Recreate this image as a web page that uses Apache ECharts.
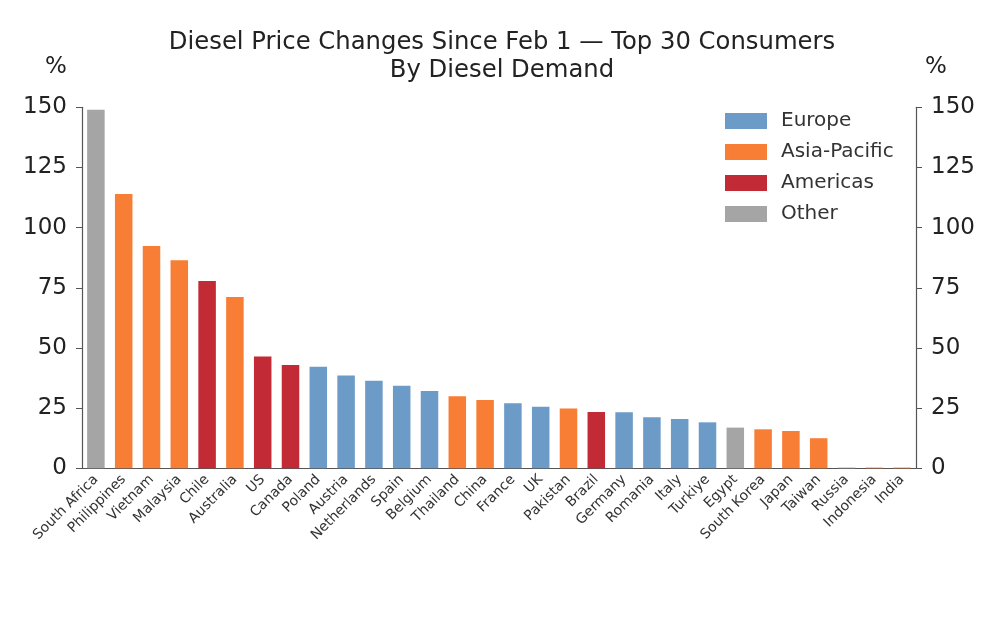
<!DOCTYPE html>
<html>
<head>
<meta charset="utf-8">
<script src="https://cdn.jsdelivr.net/npm/echarts@6/dist/echarts.min.js"></script>
<style>html,body{margin:0;padding:0;background:#fff}#c{width:1000px;height:620px}</style>
</head>
<body>
<div id="c"></div>
<script>
const categories = ["South Africa","Philippines","Vietnam","Malaysia","Chile","Australia","US","Canada","Poland","Austria","Netherlands","Spain","Belgium","Thailand","China","France","UK","Pakistan","Brazil","Germany","Romania","Italy","Turkiye","Egypt","South Korea","Japan","Taiwan","Russia","Indonesia","India"];
const values = [149,114,92.4,86.4,77.8,71.2,46.5,42.9,42.2,38.6,36.4,34.3,32.1,29.9,28.4,27.0,25.6,24.8,23.4,23.3,21.2,20.5,19.1,16.9,16.2,15.5,12.5,0.3,0.3,0.3];
const regions = ["Other","Asia-Pacific","Asia-Pacific","Asia-Pacific","Americas","Asia-Pacific","Americas","Americas","Europe","Europe","Europe","Europe","Europe","Asia-Pacific","Asia-Pacific","Europe","Europe","Asia-Pacific","Americas","Europe","Europe","Europe","Europe","Other","Asia-Pacific","Asia-Pacific","Asia-Pacific","Other","Asia-Pacific","Asia-Pacific"];
const regionNames = ["Europe","Asia-Pacific","Americas","Other"];
const regionColors = ["#6b9bc6","#f87d35","#c22a36","#a5a5a5"];
const yTicks = [0,25,50,75,100,125,150];

const font = "DejaVu Sans";
const axisCommon = {
  type: 'value', min: yTicks[0], max: yTicks[yTicks.length - 1], interval: yTicks[1] - yTicks[0],
  axisLine: {show: true, lineStyle: {color: '#555', width: 1.2}},
  axisTick: {show: true, length: 6, lineStyle: {color: '#555'}},
  splitLine: {show: false},
  axisLabel: {fontFamily: font, fontSize: 23, color: '#222', margin: 15}
};
const series = regionNames.map((r, i) => ({
  name: r, type: 'bar', stack: 'all',
  barCategoryGap: '37%',
  itemStyle: {color: regionColors[i]},
  data: values.map((v, j) => regions[j] === r ? v : null)
}));
const chart = echarts.init(document.getElementById('c'));
chart.setOption({
  animation: false,
  title: {
    text: 'Diesel Price Changes Since Feb 1 \u2014 Top 30 Consumers\nBy Diesel Demand',
    left: 497, top: 24, textAlign: 'center',
    textStyle: {fontFamily: font, fontSize: 24.3, fontWeight: 'normal', color: '#222', lineHeight: 28}
  },
  legend: {
    orient: 'vertical', left: 720, top: 106, itemWidth: 42, itemHeight: 16, itemGap: 11,
    icon: 'rect',
    textStyle: {fontFamily: font, fontSize: 20, color: '#333', padding: [0,0,0,9]},
    data: regionNames
  },
  graphic: [
    {type: 'text', left: 45, top: 56, style: {text: '%', font: '23px "DejaVu Sans"', fill: '#222'}},
    {type: 'text', left: 925, top: 56, style: {text: '%', font: '23px "DejaVu Sans"', fill: '#222'}}
  ],
  grid: {left: 82, right: 84, top: 107.3, bottom: 151.7, containLabel: false},
  xAxis: {
    type: 'category', data: categories,
    axisLine: {lineStyle: {color: '#555', width: 1.2}},
    axisTick: {length: 5, lineStyle: {color: '#555'}},
    axisLabel: {rotate: 45, interval: 0, fontFamily: font, fontSize: 14, color: '#333', margin: 9}
  },
  yAxis: [
    Object.assign({}, axisCommon, {position: 'left'}),
    Object.assign({}, axisCommon, {position: 'right'})
  ],
  series: series
});
</script>
</body>
</html>
